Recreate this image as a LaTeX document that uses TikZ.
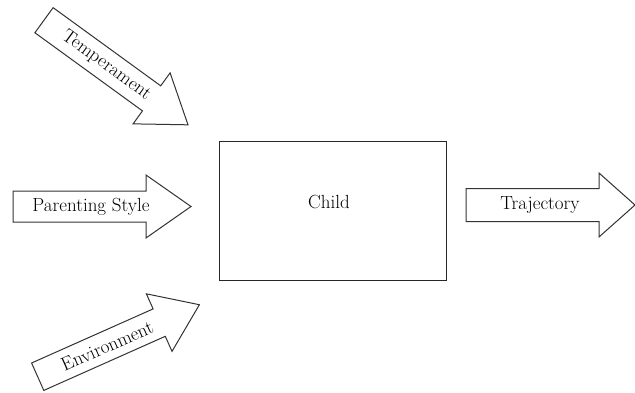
\documentclass[tikz,border=0pt]{standalone}
\tikzset{
  arrowline/.style={draw=black!80, line width=1pt, fill=white, line join=miter},
  arrowtext/.style={font=\fontsize{19}{22}\selectfont, inner sep=0pt, transform shape}
}
\begin{document}
\begin{tikzpicture}[x=1pt,y=-1pt]
\useasboundingbox (0,0) rectangle (635,392);

% the child
\node[draw=black!85, line width=1pt, minimum width=227pt, minimum height=139pt, inner sep=0pt] (childbox) at (332.5,210.5) {};
\node[arrowtext] (child) at (329,202) {Child};

% inputs
\begin{scope}[shift={(116,72.5)}, rotate=-36]
  \draw[arrowline] (-89,-15.5) -- (44,-15.5) -- (44,-31.5) -- (89,0) -- (44,31.5) -- (44,15.5) -- (-89,15.5) -- cycle;
  \node[arrowtext] (temperament) at (-12,0) {Temperament};
\end{scope}

\begin{scope}[shift={(102,206.5)}]
  \draw[arrowline] (-89,-15.5) -- (44,-15.5) -- (44,-31.5) -- (89,0) -- (44,31.5) -- (44,15.5) -- (-89,15.5) -- cycle;
  \node[arrowtext] (parenting) at (-11,0) {Parenting Style};
\end{scope}

\begin{scope}[shift={(119,340.5)}, rotate=24]
  \draw[arrowline] (-89,-15) -- (44,-15) -- (44,-31.5) -- (88,0) -- (44,31.5) -- (44,15) -- (-89,15) -- cycle;
  \node[arrowtext] (environment) at (-13,0) {Environment};
\end{scope}

% output
\begin{scope}[shift={(550,205)}]
  \draw[arrowline] (-84,-16.5) -- (49,-16.5) -- (49,-32) -- (85,0) -- (49,32) -- (49,16.5) -- (-84,16.5) -- cycle;
  \node[arrowtext] (trajectory) at (-10,0) {Trajectory};
\end{scope}
\end{tikzpicture}
\end{document}
